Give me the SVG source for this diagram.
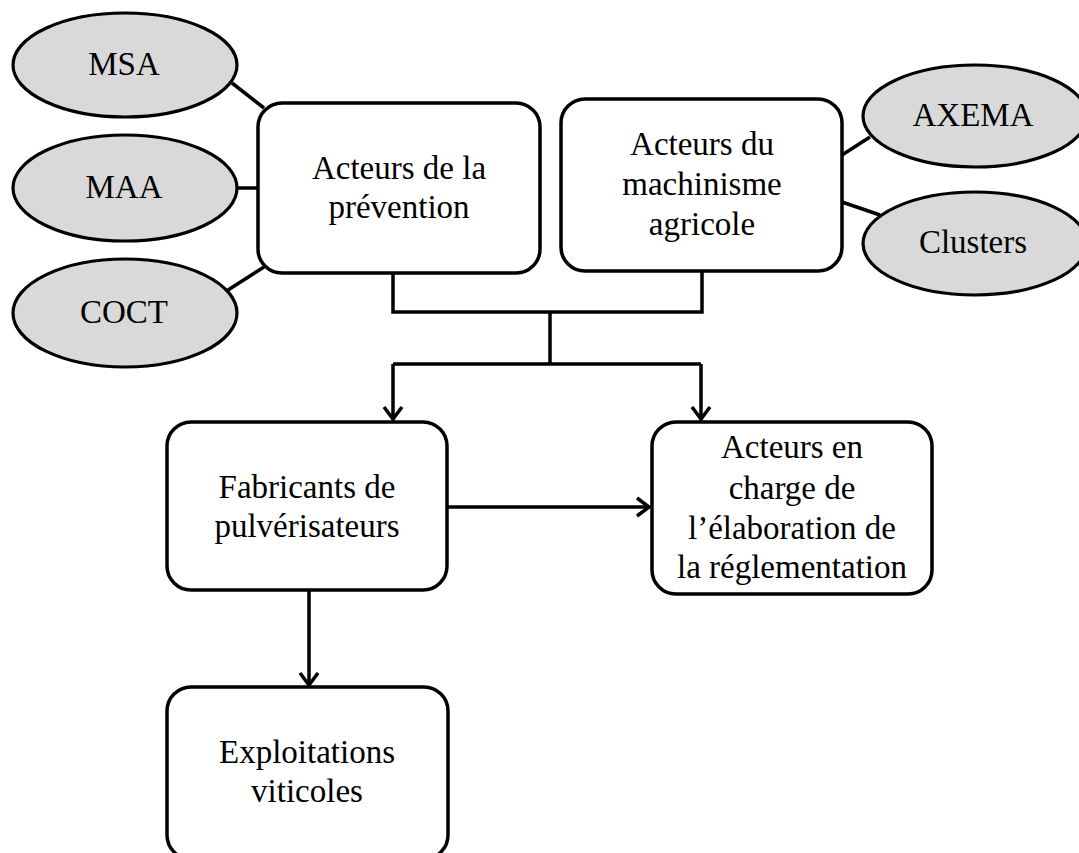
<svg xmlns="http://www.w3.org/2000/svg" width="1079" height="853" viewBox="0 0 1079 853">
<defs>
<style>
.box{fill:#fff;stroke:#000;stroke-width:3.5}
.ell{fill:#d9d9d9;stroke:#000;stroke-width:3.2}
.t{font-family:"Liberation Serif","Times New Roman",serif;font-size:33px;fill:#000;text-anchor:middle}
.c{fill:none;stroke:#000;stroke-width:3.5;stroke-linejoin:miter;stroke-linecap:butt}
</style>
<marker id="arr" viewBox="-17 -12 20 24" refX="0" refY="0" markerWidth="20" markerHeight="24" markerUnits="userSpaceOnUse" orient="auto">
<path d="M-13,-9 L-1,0 L-13,9" fill="none" stroke="#000" stroke-width="3.5" stroke-linejoin="miter"/>
</marker>
</defs>
<rect width="1079" height="853" fill="#fff"/>
<g id="connectors">
<line class="c" x1="232" y1="83" x2="264" y2="108"/>
<line class="c" x1="237" y1="188" x2="258" y2="188"/>
<line class="c" x1="228" y1="290" x2="264" y2="267"/>
<line class="c" x1="842" y1="155" x2="870" y2="137"/>
<line class="c" x1="842" y1="202" x2="880" y2="215"/>
<path class="c" d="M393,273 V312 H702 V271"/>
<path class="c" d="M550,312 V364"/>
<path class="c" d="M393,364 H701"/>
<path class="c" d="M393,364 V420" marker-end="url(#arr)"/>
<path class="c" d="M701,364 V420" marker-end="url(#arr)"/>
<path class="c" d="M447,507 H650" marker-end="url(#arr)"/>
<path class="c" d="M309,590 V686" marker-end="url(#arr)"/>
</g>
<g id="msa"><ellipse class="ell" cx="125" cy="65" rx="112" ry="52"/><text class="t" x="124" y="75">MSA</text></g>
<g id="maa"><ellipse class="ell" cx="125" cy="188" rx="112" ry="53"/><text class="t" x="124" y="198">MAA</text></g>
<g id="coct"><ellipse class="ell" cx="125" cy="313" rx="112" ry="54"/><text class="t" x="124" y="323">COCT</text></g>
<g id="axema"><ellipse class="ell" cx="975" cy="116" rx="112" ry="51"/><text class="t" x="973" y="126">AXEMA</text></g>
<g id="clusters"><ellipse class="ell" cx="975" cy="243.5" rx="112" ry="51.5"/><text class="t" x="973" y="253">Clusters</text></g>
<g id="prevention"><rect class="box" x="258" y="103" width="282" height="170" rx="24"/>
<text class="t" x="399" y="179">Acteurs de la</text><text class="t" x="399" y="218">prévention</text></g>
<g id="machinisme"><rect class="box" x="561" y="99" width="281" height="172" rx="24"/>
<text class="t" x="702" y="155">Acteurs du</text><text class="t" x="702" y="195">machinisme</text><text class="t" x="702" y="235">agricole</text></g>
<g id="fabricants"><rect class="box" x="167" y="422" width="280" height="168" rx="24"/>
<text class="t" x="307" y="498">Fabricants de</text><text class="t" x="307" y="537">pulvérisateurs</text></g>
<g id="reglementation"><rect class="box" x="652" y="422" width="280" height="172" rx="24"/>
<text class="t" x="792" y="458">Acteurs en</text><text class="t" x="792" y="499">charge de</text><text class="t" x="792" y="539">l’élaboration de</text><text class="t" x="792" y="578">la réglementation</text></g>
<g id="exploitations"><rect class="box" x="167" y="687" width="281" height="172" rx="24"/>
<text class="t" x="307" y="763">Exploitations</text><text class="t" x="307" y="802">viticoles</text></g>
</svg>
